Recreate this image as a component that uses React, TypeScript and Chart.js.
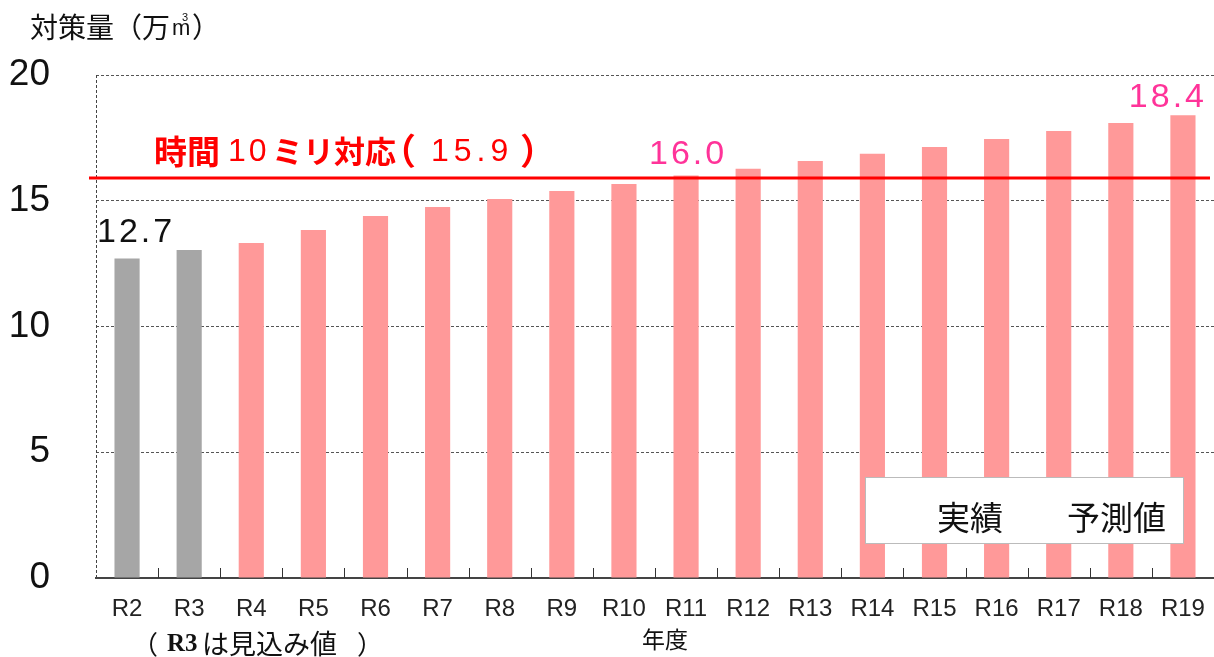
import React, { useEffect, useRef } from "react";
import { Chart, registerables } from "chart.js";

Chart.register(...registerables);

// ---- data ----
const categories = ["R2", "R3", "R4", "R5", "R6", "R7", "R8", "R9", "R10", "R11", "R12", "R13", "R14", "R15", "R16", "R17", "R18", "R19"];
const values = [12.7, 13.04, 13.32, 13.84, 14.39, 14.75, 15.07, 15.39, 15.67, 16.0, 16.27, 16.58, 16.87, 17.14, 17.46, 17.77, 18.09, 18.4];
const actualCount = 2; // R2, R3 = 実績, rest = 予測値
const yTicks = [0, 5, 10, 15, 20];
const targetValue = 15.9;
const labeledIndexes = [0, 9, 17];
const legendLabels = ["実績", "予測値"];
const yAxisTitle = "対策量（万";
const xAxisTitle = "年度";

const CJK = '"Noto Sans CJK JP", sans-serif';
const SANS = '"Liberation Sans", Arial, sans-serif';

function txt(ctx: CanvasRenderingContext2D, s: string, x: number, y: number, font: string, color: string, spacing = 0, align: CanvasTextAlign = "left", baseline: CanvasTextBaseline = "middle") {
  ctx.font = font;
  ctx.fillStyle = color;
  ctx.textAlign = align;
  ctx.textBaseline = baseline;
  (ctx as any).letterSpacing = spacing + "px";
  ctx.fillText(s, x, y);
  (ctx as any).letterSpacing = "0px";
}

const overlay = {
  id: "overlay",
  afterDraw(chart: any) {
    const { ctx, chartArea: ca, scales } = chart;
    const x = scales.x;
    const y = scales.y;
    ctx.save();
    // left dashed axis
    ctx.strokeStyle = "#444";
    ctx.lineWidth = 1;
    ctx.setLineDash([3, 2]);
    ctx.beginPath();
    ctx.moveTo(ca.left + 0.5, ca.top);
    ctx.lineTo(ca.left + 0.5, ca.bottom);
    ctx.stroke();
    ctx.setLineDash([]);
    // inward category ticks
    const step = (ca.right - ca.left) / categories.length;
    ctx.strokeStyle = "#333";
    ctx.beginPath();
    for (let k = 1; k < categories.length; k++) {
      const px = Math.round(ca.left + k * step) + 0.5;
      ctx.moveTo(px, ca.bottom);
      ctx.lineTo(px, ca.bottom - 10);
    }
    ctx.stroke();
    // target red line
    const ty = y.getPixelForValue(targetValue);
    ctx.strokeStyle = "#ff0000";
    ctx.lineWidth = 3;
    ctx.beginPath();
    ctx.moveTo(ca.left - 7, ty);
    ctx.lineTo(ca.right - 4, ty);
    ctx.stroke();
    // target label
    const ly = ty - 27;
    txt(ctx, "時間", 154, ly, `bold 33px ${CJK}`, "#ff0000");
    txt(ctx, "10", 228, ly + 1, `32px ${SANS}`, "#ff0000", 3);
    txt(ctx, "ミリ対応", 272, ly, `bold 31px ${CJK}`, "#ff0000");
    txt(ctx, "（", 380, ly, `bold 36px ${CJK}`, "#ff0000");
    txt(ctx, targetValue.toFixed(1), 431, ly + 1, `32px ${SANS}`, "#ff0000", 5);
    txt(ctx, "）", 520, ly, `bold 36px ${CJK}`, "#ff0000");
    // value labels
    const offs: Record<number, [number, number, string]> = {
      0: [9, 17, "#111"],
      9: [2, 12, "#ff3399"],
      17: [-15, 8, "#ff3399"],
    };
    labeledIndexes.forEach((i) => {
      const [dx, dy, col] = offs[i];
      const bx = x.getPixelForValue(i);
      const by = y.getPixelForValue(values[i]);
      txt(ctx, values[i].toFixed(1), bx + dx, by - dy, `34px ${SANS}`, col, 3, "center", "alphabetic");
    });
    // legend box
    ctx.fillStyle = "#fff";
    ctx.fillRect(865, 477, 318, 66);
    ctx.strokeStyle = "#bbb";
    ctx.lineWidth = 1;
    ctx.strokeRect(865.5, 477.5, 318, 66);
    txt(ctx, legendLabels[0], 937, 517, `33px ${CJK}`, "#111");
    txt(ctx, legendLabels[1], 1067, 517, `33px ${CJK}`, "#111");
    // y axis title
    txt(ctx, yAxisTitle, 30, 27, `28px ${CJK}`, "#111");
    ctx.font = `28px ${CJK}`;
    const tx = 30 + ctx.measureText(yAxisTitle).width;
    txt(ctx, "m", tx + 2, 29, `22px ${SANS}`, "#111");
    txt(ctx, "3", tx + 12, 18, `11px ${SANS}`, "#111");
    txt(ctx, "）", tx + 22, 27, `28px ${CJK}`, "#111");
    // x axis title and note
    txt(ctx, xAxisTitle, 642, 639, `23px ${CJK}`, "#111");
    txt(ctx, "（", 132, 644, `26px ${CJK}`, "#111");
    txt(ctx, "R3", 167, 645, `bold 25px "Liberation Serif", serif`, "#111");
    txt(ctx, "は見込み値", 202, 644, `27px ${CJK}`, "#111");
    txt(ctx, "）", 357, 644, `26px ${CJK}`, "#111");
    ctx.restore();
  },
};

export default function App() {
  const ref = useRef<HTMLCanvasElement>(null);
  useEffect(() => {
    document.body.style.margin = "0";
    const colors = values.map((_, i) => (i < actualCount ? "#a6a6a6" : "#ff9999"));
    const chart = new Chart(ref.current!, {
      type: "bar",
      data: {
        labels: categories,
        datasets: [
          {
            data: values,
            backgroundColor: colors,
            borderWidth: 0,
            barPercentage: 0.405,
            categoryPercentage: 1,
          },
        ],
      },
      options: {
        responsive: false,
        animation: false,
        devicePixelRatio: 1,
        layout: { padding: { top: 75, right: 0, left: 0, bottom: 0 } },
        plugins: { legend: { display: false }, tooltip: { enabled: false } },
        scales: {
          x: {
            grid: { display: false, drawTicks: false },
            border: { display: true, color: "#444", width: 2 },
            ticks: { font: { family: "Liberation Sans", size: 24 }, color: "#222", padding: 17, maxRotation: 0 },
            afterFit: (s: any) => {
              s.height = 79;
              s.paddingLeft = 0;
              s.paddingRight = 0;
            },
          },
          y: {
            min: 0,
            max: 20,
            afterBuildTicks: (s: any) => {
              s.ticks = yTicks.map((v) => ({ value: v }));
            },
            grid: { color: "#555", lineWidth: 1, drawTicks: false },
            border: { display: false, dash: [3, 2] },
            ticks: { font: { family: "Liberation Sans", size: 37 }, color: "#111", padding: 46 },
            afterFit: (s: any) => {
              s.width = 96;
            },
          },
        },
      },
      plugins: [overlay],
    });
    return () => chart.destroy();
  }, []);
  return (
    <div style={{ position: "absolute", left: 0, top: 0, width: 1214, height: 657 }}>
      <canvas ref={ref} width={1214} height={657} style={{ width: 1214, height: 657 }} />
    </div>
  );
}
